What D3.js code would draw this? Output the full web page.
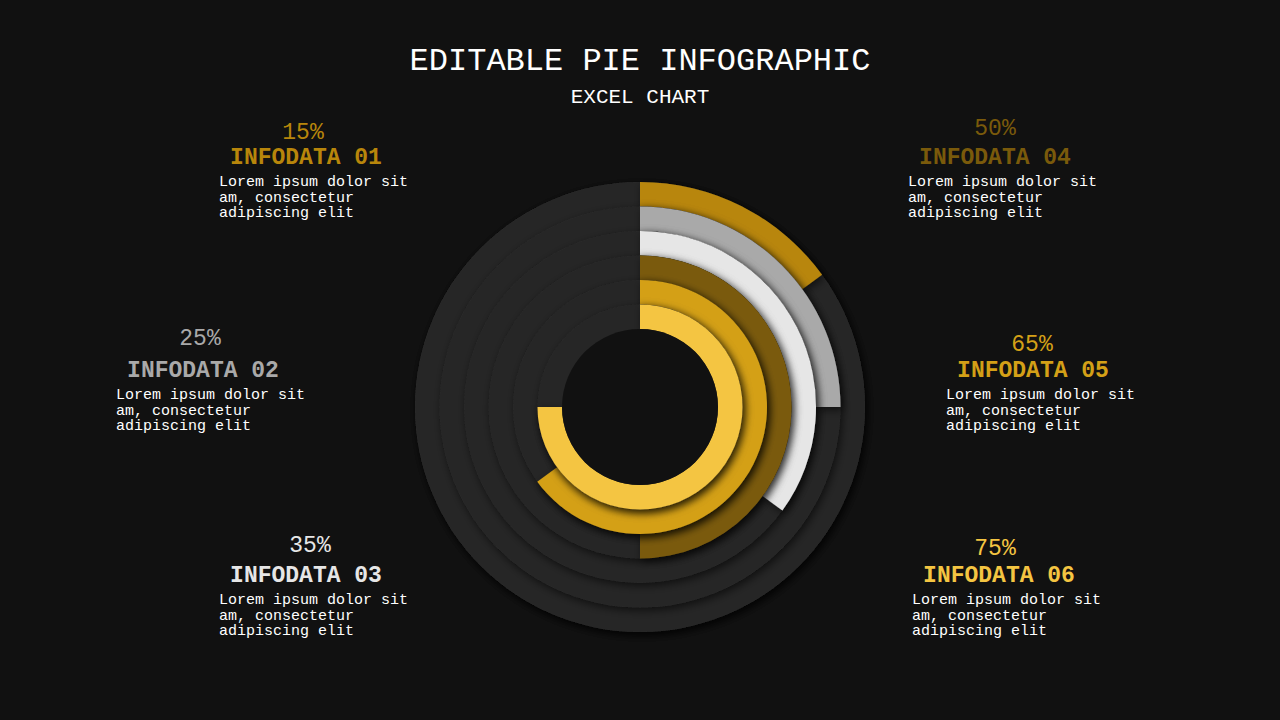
<!DOCTYPE html>
<html><head><meta charset="utf-8">
<script src="https://cdn.jsdelivr.net/npm/d3@7/dist/d3.min.js"></script>
<style>body{margin:0;background:#111111;}svg{display:block;}</style>
</head><body>
<svg id="chart" width="1280" height="720"></svg>
<script>
// data
const labels = ["INFODATA 01", "INFODATA 02", "INFODATA 03", "INFODATA 04", "INFODATA 05", "INFODATA 06"];
const values = [15, 25, 35, 50, 65, 75];
const colors = ["#b8860b", "#a9a9a9", "#e6e6e6", "#7a5a0b", "#d4a017", "#f4c542"];
const bodyLines = ["Lorem ipsum dolor sit", "am, consectetur", "adipiscing elit"];

// label anchor positions (pct centre x, pct y, text left x)
const labelPos = [
  {cx: 303, py: 139, tx: 219, ty: 164},
  {cx: 200, py: 345, tx: 116, ty: 377},
  {cx: 310, py: 552, tx: 219, ty: 582},
  {cx: 995, py: 135, tx: 908, ty: 164},
  {cx: 1032, py: 351, tx: 946, ty: 377},
  {cx: 995, py: 555, tx: 912, ty: 582}
];

const font = "'Liberation Mono', 'DejaVu Sans Mono', monospace";
const svg = d3.select("#chart");

svg.append("text").attr("x", 640).attr("y", 70).attr("text-anchor", "middle")
  .attr("fill", "#fff").attr("font-family", font).attr("font-size", 32).text("EDITABLE PIE INFOGRAPHIC");
svg.append("text").attr("x", 640).attr("y", 103).attr("text-anchor", "middle")
  .attr("fill", "#fff").attr("font-family", font).attr("font-size", 21).text("EXCEL CHART");

const defs = svg.append("defs");
const f = defs.append("filter").attr("id", "sh").attr("x", "-20%").attr("y", "-20%").attr("width", "140%").attr("height", "140%");
f.append("feDropShadow").attr("dx", 2).attr("dy", 3).attr("stdDeviation", 4).attr("flood-color", "#000").attr("flood-opacity", 0.6);

const g = svg.append("g").attr("transform", "translate(640,407)");
const angle = d3.scaleLinear().domain([0, 100]).range([0, 2 * Math.PI]);
const ringR = d3.scaleLinear().domain([0, values.length]).range([225, 78]);

g.append("circle").attr("r", 225).attr("fill", "#262626").attr("filter", "url(#sh)");

values.forEach((v, i) => {
  const outer = ringR(i), inner = ringR(i + 1);
  g.append("circle").attr("r", outer).attr("fill", "#282828").attr("filter", "url(#sh)");
  g.append("path")
    .attr("d", d3.arc().innerRadius(inner).outerRadius(outer).startAngle(0).endAngle(angle(v))())
    .attr("fill", colors[i]).attr("filter", "url(#sh)");
});
g.append("circle").attr("r", ringR(values.length)).attr("fill", "#111111");

labels.forEach((l, i) => {
  const p = labelPos[i];
  svg.append("text").attr("x", p.cx).attr("y", p.py).attr("text-anchor", "middle")
    .attr("fill", colors[i]).attr("font-family", font).attr("font-size", 23).text(values[i] + "%");
  svg.append("text").attr("x", p.tx + 87).attr("y", p.ty).attr("text-anchor", "middle")
    .attr("fill", colors[i]).attr("font-family", font).attr("font-weight", "bold").attr("font-size", 23).text(l);
  bodyLines.forEach((line, j) => {
    svg.append("text").attr("x", p.tx).attr("y", p.ty + 22 + j * 15.5)
      .attr("fill", "#fff").attr("font-family", font).attr("font-size", 15).text(line);
  });
});
</script>
</body></html>
